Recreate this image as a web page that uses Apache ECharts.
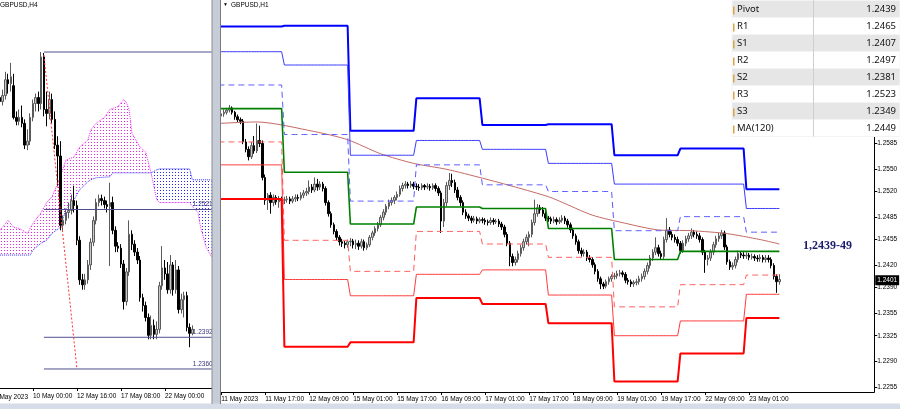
<!DOCTYPE html>
<html>
<head>
<meta charset="utf-8">
<script src="https://cdn.jsdelivr.net/npm/echarts@6/dist/echarts.min.js"></script>
<style>
  html, body { margin: 0; padding: 0; background: #fff; }
  #chart { width: 900px; height: 409px; }
</style>
</head>
<body>
<div id="chart"></div>
<script>
// ---- left panel: GBPUSD H4 ----
const leftDays = ['8 May', '9 May', '10 May', '11 May', '12 May', '15 May', '16 May', '17 May', '18 May', '19 May', '22 May', '23 May']
const leftDayBars = [6, 6, 6, 6, 6, 6, 6, 6, 6, 6, 6, 5]
const leftPadBars = 7
const leftLabelIdx = [12, 28, 44, 60]
const leftLabelText = ['10 May 00:00', '12 May 16:00', '17 May 08:00', '22 May 00:00']

// [open, close, low, high]
const leftCandles = [
  [1.2634, 1.2630, 1.2625, 1.2640], [1.2630, 1.2636, 1.2626, 1.2642], [1.2636, 1.2652, 1.2632, 1.2660],
  [1.2652, 1.2648, 1.2638, 1.2658], [1.2648, 1.2655, 1.2640, 1.2669], [1.2646, 1.2614, 1.2612, 1.2658],
  [1.2614, 1.2610, 1.2606, 1.2620], [1.2610, 1.2614, 1.2606, 1.2622], [1.2614, 1.2608, 1.2604, 1.2626],
  [1.2608, 1.2586, 1.2582, 1.2612], [1.2586, 1.2590, 1.2581, 1.2602], [1.2590, 1.2614, 1.2586, 1.2618],
  [1.2614, 1.2628, 1.2610, 1.2632], [1.2628, 1.2634, 1.2620, 1.2638], [1.2634, 1.2628, 1.2620, 1.2640],
  [1.2628, 1.2675, 1.2622, 1.2680], [1.2675, 1.2622, 1.2615, 1.2679], [1.2622, 1.2618, 1.2605, 1.2640],
  [1.2618, 1.2632, 1.2612, 1.2640], [1.2632, 1.2612, 1.2608, 1.2638], [1.2612, 1.2586, 1.2582, 1.2620],
  [1.2586, 1.2575, 1.2545, 1.2595], [1.2575, 1.2505, 1.2500, 1.2590], [1.2505, 1.2510, 1.2500, 1.2515],
  [1.2510, 1.2518, 1.2506, 1.2522], [1.2518, 1.2520, 1.2512, 1.2528], [1.2520, 1.2530, 1.2516, 1.2536],
  [1.2530, 1.2525, 1.2518, 1.2545], [1.2525, 1.2490, 1.2485, 1.2530], [1.2490, 1.2450, 1.2445, 1.2494],
  [1.2450, 1.2445, 1.2440, 1.2456], [1.2445, 1.2450, 1.2440, 1.2456], [1.2450, 1.2465, 1.2446, 1.2470],
  [1.2465, 1.2488, 1.2460, 1.2492], [1.2488, 1.2510, 1.2484, 1.2514], [1.2510, 1.2528, 1.2506, 1.2532],
  [1.2528, 1.2532, 1.2524, 1.2536], [1.2532, 1.2530, 1.2525, 1.2536], [1.2530, 1.2526, 1.2522, 1.2534],
  [1.2526, 1.2524, 1.2518, 1.2530], [1.2524, 1.2528, 1.2464, 1.2548], [1.2528, 1.2500, 1.2496, 1.2534],
  [1.2500, 1.2484, 1.2478, 1.2504], [1.2484, 1.2482, 1.2478, 1.2488], [1.2482, 1.2466, 1.2462, 1.2486],
  [1.2466, 1.2428, 1.2420, 1.2470], [1.2428, 1.2458, 1.2424, 1.2462], [1.2458, 1.2496, 1.2454, 1.2510],
  [1.2496, 1.2486, 1.2480, 1.2500], [1.2486, 1.2478, 1.2474, 1.2490], [1.2478, 1.2470, 1.2466, 1.2482],
  [1.2470, 1.2432, 1.2428, 1.2474], [1.2432, 1.2424, 1.2418, 1.2436], [1.2424, 1.2412, 1.2408, 1.2428],
  [1.2412, 1.2394, 1.2390, 1.2416], [1.2394, 1.2404, 1.2390, 1.2414], [1.2404, 1.2395, 1.2390, 1.2410],
  [1.2395, 1.2400, 1.2390, 1.2408], [1.2400, 1.2444, 1.2396, 1.2448], [1.2444, 1.2462, 1.2440, 1.2484],
  [1.2462, 1.2456, 1.2450, 1.2470], [1.2456, 1.2440, 1.2436, 1.2468], [1.2440, 1.2465, 1.2436, 1.2475],
  [1.2465, 1.2440, 1.2434, 1.2468], [1.2440, 1.2460, 1.2436, 1.2470], [1.2460, 1.2420, 1.2416, 1.2464],
  [1.2420, 1.2430, 1.2416, 1.2436], [1.2430, 1.2434, 1.2412, 1.2438], [1.2434, 1.2402, 1.2398, 1.2438],
  [1.2402, 1.2396, 1.2382, 1.2406], [1.2396, 1.2400, 1.2394, 1.2404]
]

// ichimoku spans [bar index, price]
const spanA = [
  [0, 1.2500], [3, 1.2510], [5, 1.2503], [7, 1.2502], [10, 1.2497], [12, 1.2507], [15, 1.2518],
  [17, 1.2528], [19, 1.2534], [22, 1.2554], [24, 1.2571], [27, 1.2574], [29, 1.2584], [32, 1.2591],
  [33, 1.2601], [35, 1.2608], [38, 1.2614], [40, 1.2622], [43, 1.2625], [45, 1.2632], [46, 1.2629],
  [47, 1.2622], [48, 1.2598], [51, 1.2584], [53, 1.2579], [55, 1.2558], [57, 1.2531], [58, 1.2528],
  [69, 1.2528], [70, 1.2524], [72, 1.2518], [73, 1.2503], [75, 1.2483], [77, 1.2473]
]
const spanB = [
  [0, 1.2475], [11, 1.2475], [12, 1.2480], [15, 1.2487], [17, 1.2490], [19, 1.2497], [22, 1.2503],
  [24, 1.2521], [27, 1.2531], [29, 1.2541], [32, 1.2549], [33, 1.2551], [35, 1.2553], [40, 1.2554],
  [41, 1.2558], [55, 1.2558], [57, 1.2561], [58, 1.2562], [69, 1.2562], [70, 1.2551], [77, 1.2551]
]
const cloudCross = 55

const leftLevels = [1.2680, 1.2521, 1.2392, 1.2360]
const leftLevelLabels = ['', '1.2521', '1.2392', '1.2360']
const trendLine = [[16, 1.2677], [28, 1.2361]]

// ---- right panel: GBPUSD H1 ----
const rightDays = ['11 May', '12 May', '15 May', '16 May', '17 May', '18 May', '19 May', '22 May', '23 May']
const rightDayBars = [24, 24, 24, 24, 24, 24, 24, 24, 13]
const rightPadBars = 34
const rightLabelIdx = [1, 17, 33, 49, 65, 81, 97, 113, 129, 145, 161, 177, 193]
const rightLabelText = ['11 May 2023', '11 May 17:00', '12 May 09:00', '15 May 01:00', '15 May 17:00', '16 May 09:00',
  '17 May 01:00', '17 May 17:00', '18 May 09:00', '19 May 01:00', '19 May 17:00', '22 May 09:00', '23 May 01:00']
const rightYTicks = [1.2255, 1.2290, 1.2325, 1.2355, 1.2390, 1.2420, 1.2455, 1.2485, 1.2520, 1.2550, 1.2585]

const rightCandles = [
  // 11 May
  [1.2619, 1.2622, 1.2615, 1.2626], [1.2622, 1.2625, 1.2619, 1.2628], [1.2625, 1.2627, 1.2621, 1.2631],
  [1.2627, 1.2630, 1.2624, 1.2633], [1.2630, 1.2633, 1.2627, 1.2637], [1.2633, 1.2627, 1.2624, 1.2635],
  [1.2627, 1.2621, 1.2617, 1.2629], [1.2621, 1.2617, 1.2614, 1.2624], [1.2617, 1.2615, 1.2611, 1.2620],
  [1.2615, 1.2587, 1.2584, 1.2618], [1.2587, 1.2577, 1.2573, 1.2591], [1.2577, 1.2567, 1.2562, 1.2581],
  [1.2567, 1.2582, 1.2564, 1.2587], [1.2582, 1.2575, 1.2571, 1.2595], [1.2575, 1.2589, 1.2572, 1.2612],
  [1.2589, 1.2585, 1.2580, 1.2609], [1.2585, 1.2539, 1.2535, 1.2589], [1.2539, 1.2508, 1.2502, 1.2543],
  [1.2508, 1.2515, 1.2495, 1.2518], [1.2515, 1.2505, 1.2490, 1.2519], [1.2505, 1.2512, 1.2500, 1.2516],
  [1.2512, 1.2506, 1.2502, 1.2515], [1.2506, 1.2510, 1.2498, 1.2514], [1.2510, 1.2508, 1.2503, 1.2513],
  // 12 May
  [1.2508, 1.2509, 1.2503, 1.2513], [1.2509, 1.2510, 1.2505, 1.2514], [1.2510, 1.2507, 1.2503, 1.2513],
  [1.2507, 1.2510, 1.2504, 1.2514], [1.2510, 1.2512, 1.2506, 1.2516], [1.2512, 1.2511, 1.2507, 1.2516],
  [1.2511, 1.2515, 1.2508, 1.2519], [1.2515, 1.2518, 1.2511, 1.2522], [1.2518, 1.2520, 1.2514, 1.2525],
  [1.2520, 1.2526, 1.2516, 1.2535], [1.2526, 1.2522, 1.2518, 1.2530], [1.2522, 1.2530, 1.2519, 1.2539],
  [1.2530, 1.2526, 1.2521, 1.2537], [1.2526, 1.2530, 1.2522, 1.2534], [1.2530, 1.2524, 1.2520, 1.2533],
  [1.2524, 1.2505, 1.2501, 1.2527], [1.2505, 1.2490, 1.2486, 1.2508], [1.2490, 1.2475, 1.2471, 1.2493],
  [1.2475, 1.2466, 1.2462, 1.2478], [1.2466, 1.2458, 1.2454, 1.2469], [1.2458, 1.2452, 1.2447, 1.2461],
  [1.2452, 1.2450, 1.2445, 1.2456], [1.2450, 1.2448, 1.2443, 1.2453], [1.2448, 1.2452, 1.2444, 1.2455],
  // 15 May
  [1.2452, 1.2453, 1.2446, 1.2457], [1.2453, 1.2448, 1.2443, 1.2456], [1.2448, 1.2450, 1.2442, 1.2455],
  [1.2450, 1.2446, 1.2441, 1.2454], [1.2446, 1.2452, 1.2443, 1.2456], [1.2452, 1.2444, 1.2440, 1.2455],
  [1.2444, 1.2448, 1.2441, 1.2451], [1.2448, 1.2458, 1.2445, 1.2461], [1.2458, 1.2464, 1.2454, 1.2467],
  [1.2464, 1.2470, 1.2460, 1.2473], [1.2470, 1.2475, 1.2466, 1.2479], [1.2475, 1.2485, 1.2472, 1.2488],
  [1.2485, 1.2492, 1.2481, 1.2496], [1.2492, 1.2500, 1.2488, 1.2503], [1.2500, 1.2505, 1.2496, 1.2509],
  [1.2505, 1.2508, 1.2501, 1.2512], [1.2508, 1.2512, 1.2503, 1.2515], [1.2512, 1.2516, 1.2508, 1.2520],
  [1.2516, 1.2524, 1.2513, 1.2528], [1.2524, 1.2528, 1.2520, 1.2532], [1.2528, 1.2530, 1.2524, 1.2534],
  [1.2530, 1.2528, 1.2524, 1.2533], [1.2528, 1.2530, 1.2525, 1.2534], [1.2530, 1.2527, 1.2523, 1.2533],
  // 16 May
  [1.2527, 1.2526, 1.2522, 1.2531], [1.2526, 1.2525, 1.2521, 1.2530], [1.2525, 1.2528, 1.2522, 1.2531],
  [1.2528, 1.2526, 1.2522, 1.2530], [1.2526, 1.2527, 1.2523, 1.2531], [1.2527, 1.2525, 1.2521, 1.2530],
  [1.2525, 1.2528, 1.2522, 1.2531], [1.2528, 1.2524, 1.2520, 1.2531], [1.2524, 1.2518, 1.2514, 1.2527],
  [1.2518, 1.2480, 1.2464, 1.2521], [1.2480, 1.2505, 1.2472, 1.2510], [1.2505, 1.2528, 1.2500, 1.2533],
  [1.2528, 1.2535, 1.2522, 1.2545], [1.2535, 1.2532, 1.2526, 1.2544], [1.2532, 1.2522, 1.2518, 1.2536],
  [1.2522, 1.2512, 1.2508, 1.2526], [1.2512, 1.2505, 1.2500, 1.2515], [1.2505, 1.2492, 1.2488, 1.2508],
  [1.2492, 1.2487, 1.2483, 1.2496], [1.2487, 1.2484, 1.2480, 1.2490], [1.2484, 1.2481, 1.2477, 1.2487],
  [1.2481, 1.2483, 1.2478, 1.2487], [1.2483, 1.2480, 1.2476, 1.2486], [1.2480, 1.2482, 1.2477, 1.2485],
  // 17 May
  [1.2482, 1.2481, 1.2477, 1.2485], [1.2481, 1.2479, 1.2475, 1.2484], [1.2479, 1.2478, 1.2474, 1.2482],
  [1.2478, 1.2481, 1.2475, 1.2485], [1.2481, 1.2479, 1.2475, 1.2484], [1.2479, 1.2480, 1.2476, 1.2483],
  [1.2480, 1.2476, 1.2472, 1.2483], [1.2476, 1.2472, 1.2468, 1.2479], [1.2472, 1.2462, 1.2458, 1.2475],
  [1.2462, 1.2450, 1.2446, 1.2465], [1.2450, 1.2432, 1.2419, 1.2453], [1.2432, 1.2424, 1.2419, 1.2436],
  [1.2424, 1.2428, 1.2420, 1.2432], [1.2428, 1.2436, 1.2424, 1.2440], [1.2436, 1.2444, 1.2432, 1.2448],
  [1.2444, 1.2452, 1.2440, 1.2456], [1.2452, 1.2458, 1.2448, 1.2462], [1.2458, 1.2462, 1.2446, 1.2466],
  [1.2462, 1.2478, 1.2458, 1.2482], [1.2478, 1.2490, 1.2474, 1.2509], [1.2490, 1.2498, 1.2486, 1.2503],
  [1.2498, 1.2495, 1.2490, 1.2502], [1.2495, 1.2490, 1.2486, 1.2499], [1.2490, 1.2484, 1.2480, 1.2494],
  // 18 May
  [1.2484, 1.2483, 1.2479, 1.2487], [1.2483, 1.2480, 1.2476, 1.2486], [1.2480, 1.2482, 1.2477, 1.2486],
  [1.2482, 1.2479, 1.2475, 1.2485], [1.2479, 1.2481, 1.2476, 1.2485], [1.2481, 1.2484, 1.2478, 1.2488],
  [1.2484, 1.2480, 1.2476, 1.2487], [1.2480, 1.2475, 1.2471, 1.2483], [1.2475, 1.2468, 1.2464, 1.2478],
  [1.2468, 1.2460, 1.2456, 1.2471], [1.2460, 1.2452, 1.2448, 1.2463], [1.2452, 1.2440, 1.2436, 1.2455],
  [1.2440, 1.2436, 1.2432, 1.2444], [1.2436, 1.2438, 1.2432, 1.2442], [1.2438, 1.2430, 1.2426, 1.2441],
  [1.2430, 1.2428, 1.2424, 1.2434], [1.2428, 1.2421, 1.2417, 1.2431], [1.2421, 1.2412, 1.2408, 1.2424],
  [1.2412, 1.2402, 1.2398, 1.2415], [1.2402, 1.2395, 1.2388, 1.2405], [1.2395, 1.2392, 1.2388, 1.2398],
  [1.2392, 1.2398, 1.2389, 1.2401], [1.2398, 1.2402, 1.2394, 1.2405], [1.2402, 1.2405, 1.2398, 1.2408],
  // 19 May
  [1.2405, 1.2406, 1.2401, 1.2410], [1.2406, 1.2409, 1.2402, 1.2413], [1.2409, 1.2410, 1.2405, 1.2414],
  [1.2410, 1.2408, 1.2404, 1.2413], [1.2408, 1.2400, 1.2396, 1.2411], [1.2400, 1.2398, 1.2394, 1.2403],
  [1.2398, 1.2395, 1.2391, 1.2401], [1.2395, 1.2397, 1.2391, 1.2400], [1.2397, 1.2398, 1.2393, 1.2402],
  [1.2398, 1.2402, 1.2394, 1.2406], [1.2402, 1.2405, 1.2398, 1.2409], [1.2405, 1.2412, 1.2401, 1.2416],
  [1.2412, 1.2420, 1.2408, 1.2424], [1.2420, 1.2430, 1.2416, 1.2434], [1.2430, 1.2438, 1.2426, 1.2442],
  [1.2438, 1.2444, 1.2434, 1.2458], [1.2444, 1.2436, 1.2432, 1.2448], [1.2436, 1.2432, 1.2428, 1.2440],
  [1.2432, 1.2455, 1.2428, 1.2459], [1.2455, 1.2468, 1.2451, 1.2484], [1.2468, 1.2462, 1.2458, 1.2472],
  [1.2462, 1.2458, 1.2454, 1.2466], [1.2458, 1.2455, 1.2451, 1.2462], [1.2455, 1.2450, 1.2446, 1.2459],
  // 22 May
  [1.2450, 1.2440, 1.2436, 1.2453], [1.2440, 1.2450, 1.2437, 1.2454], [1.2450, 1.2456, 1.2446, 1.2460],
  [1.2456, 1.2460, 1.2452, 1.2464], [1.2460, 1.2465, 1.2456, 1.2470], [1.2465, 1.2462, 1.2458, 1.2468],
  [1.2462, 1.2460, 1.2456, 1.2466], [1.2460, 1.2455, 1.2451, 1.2464], [1.2455, 1.2438, 1.2434, 1.2458],
  [1.2438, 1.2428, 1.2410, 1.2441], [1.2428, 1.2430, 1.2420, 1.2434], [1.2430, 1.2438, 1.2426, 1.2442],
  [1.2438, 1.2448, 1.2434, 1.2452], [1.2448, 1.2456, 1.2444, 1.2460], [1.2456, 1.2460, 1.2452, 1.2464],
  [1.2460, 1.2464, 1.2456, 1.2468], [1.2464, 1.2445, 1.2441, 1.2467], [1.2445, 1.2425, 1.2421, 1.2448],
  [1.2425, 1.2418, 1.2414, 1.2428], [1.2418, 1.2420, 1.2414, 1.2424], [1.2420, 1.2428, 1.2416, 1.2432],
  [1.2428, 1.2436, 1.2424, 1.2440], [1.2436, 1.2434, 1.2430, 1.2439], [1.2434, 1.2433, 1.2429, 1.2438],
  // 23 May
  [1.2433, 1.2434, 1.2429, 1.2438], [1.2434, 1.2431, 1.2427, 1.2437], [1.2431, 1.2432, 1.2428, 1.2436],
  [1.2432, 1.2430, 1.2426, 1.2435], [1.2430, 1.2429, 1.2425, 1.2434], [1.2429, 1.2431, 1.2425, 1.2435],
  [1.2431, 1.2428, 1.2424, 1.2434], [1.2428, 1.2430, 1.2424, 1.2434], [1.2430, 1.2428, 1.2424, 1.2434],
  [1.2428, 1.2420, 1.2416, 1.2431], [1.2420, 1.2405, 1.2401, 1.2423], [1.2405, 1.2398, 1.2383, 1.2408],
  [1.2398, 1.2401, 1.2394, 1.2408]
]
const lastPrice = 1.2401

// daily pivot levels, one value per day in rightDays
const levelR3 = [1.2743, 1.2744, 1.2602, 1.2646, 1.2610, 1.2611, 1.2569, 1.2578, 1.2523]
const levelR2 = [1.2709, 1.2691, 1.2569, 1.2589, 1.2577, 1.2558, 1.2530, 1.2530, 1.2497]
const levelR1 = [1.2664, 1.2597, 1.2507, 1.2556, 1.2529, 1.2520, 1.2467, 1.2486, 1.2465]
const levelP = [1.2632, 1.2546, 1.2476, 1.2499, 1.2497, 1.2470, 1.2428, 1.2439, 1.2439]
const levelS1 = [1.2587, 1.2454, 1.2412, 1.2466, 1.2449, 1.2431, 1.2364, 1.2394, 1.2407]
const levelS2 = [1.2556, 1.2401, 1.2379, 1.2408, 1.2414, 1.2380, 1.2325, 1.2345, 1.2381]
const levelS3 = [1.2510, 1.2310, 1.2316, 1.2376, 1.2368, 1.2342, 1.2263, 1.2301, 1.2349]

// MA(120) read at some bars [bar index, price]
const maPoints = [
  [0, 1.2612], [14, 1.2614], [35, 1.2601], [47, 1.2590], [59, 1.2571], [71, 1.2558], [83, 1.2550],
  [96, 1.2538], [108, 1.2526], [120, 1.2513], [124, 1.2507], [136, 1.2488], [148, 1.2477],
  [160, 1.2468], [172, 1.2467], [185, 1.2463], [197, 1.2455], [204, 1.2449]
]

const tableNames = ['Pivot', 'R1', 'S1', 'R2', 'S2', 'R3', 'S3', 'MA(120)']
const tableValues = [1.2439, 1.2465, 1.2407, 1.2497, 1.2381, 1.2523, 1.2349, 1.2449]
const noteText = '1,2439-49'

const FONT = '"Liberation Sans", Arial, sans-serif'

const pad2 = n => String(n).padStart(2, '0')
const leftCats = leftDays.flatMap((d, k) =>
  Array.from({ length: leftDayBars[k] }, (_, h) => d + ' ' + pad2(h * 4) + ':00'))
  .concat(Array.from({ length: leftPadBars }, (_, i) => 'L+' + i))
const rightCats = rightDays.flatMap((d, k) =>
  Array.from({ length: rightDayBars[k] }, (_, h) => d + ' ' + pad2(h) + ':00'))
  .concat(Array.from({ length: rightPadBars }, (_, i) => 'R+' + i))

const perBar = vals => rightDays.flatMap((d, k) => Array(rightDayBars[k]).fill(vals[k]))

// sparse dot hatch like the terminal's cloud fill
const makeDots = color => {
  const c = document.createElement('canvas')
  c.width = 3
  c.height = 3
  const g = c.getContext('2d')
  g.fillStyle = color
  g.fillRect(1, 1, 1, 1)
  return c
}
const pinkDots = { image: makeDots('#f020f0'), repeat: 'repeat' }
const blueDots = { image: makeDots('#2828ff'), repeat: 'repeat' }

const candleStyle = {
  color: '#c8c8c8',
  color0: '#000000',
  borderColor: '#5a5a5a',
  borderColor0: '#000000',
  borderWidth: 1
}

const levelLine = (name, vals, color, width, dashed) => ({
  name,
  type: 'line',
  xAxisIndex: 1,
  yAxisIndex: 1,
  data: perBar(vals),
  showSymbol: false,
  silent: true,
  z: 4,
  lineStyle: { color, width, type: dashed ? [6, 4] : 'solid' }
})

const xAxisCommon = (labelIdx, labelText, margin) => ({
  type: 'category',
  boundaryGap: true,
  axisLine: { show: true, lineStyle: { color: '#000', width: 1 } },
  axisTick: {
    show: true, alignWithLabel: true, length: 3,
    interval: i => labelIdx.includes(i),
    lineStyle: { color: '#000' }
  },
  axisLabel: {
    interval: i => labelIdx.includes(i),
    formatter: (v, i) => labelText[labelIdx.indexOf(i)] || '',
    align: 'left', margin, fontSize: 6.5, color: '#000', fontFamily: FONT
  },
  splitLine: { show: false }
})

const chart = echarts.init(document.getElementById('chart'), null, { renderer: 'canvas' })

const tableGraphics = []
tableNames.forEach((n, k) => {
  const top = 0.5 + 17 * k
  tableGraphics.push(
    { type: 'rect', z: 110, shape: { x: 732, y: top, width: 168, height: 17 },
      style: { fill: k % 2 === 0 ? '#e6e6e6' : '#ffffff', stroke: '#f4f4f4', lineWidth: 1 } },
    { type: 'rect', z: 111, shape: { x: 733, y: top + 6, width: 1.5, height: 8 }, style: { fill: '#d9a441' } },
    { type: 'text', z: 112, x: 737, y: top + 9,
      style: { text: n, fill: '#111', font: '9.5px "Noto Sans", sans-serif', textVerticalAlign: 'middle' } },
    { type: 'text', z: 112, x: 896, y: top + 9,
      style: { text: tableValues[k].toFixed(4), fill: '#111', font: '9.5px "Noto Sans", sans-serif',
        textAlign: 'right', textVerticalAlign: 'middle' } }
  )
})
tableGraphics.push({ type: 'line', z: 113, shape: { x1: 813.5, y1: 0, x2: 813.5, y2: 136.5 },
  style: { stroke: '#cfcfcf', lineWidth: 1 } })

chart.setOption({
  animation: false,
  backgroundColor: '#ffffff',
  grid: [
    { left: -1.5, top: 0, width: 214.5, height: 388, outerBoundsMode: 'none' },
    { left: 217, top: 0, width: 657.25, height: 392, outerBoundsMode: 'none' }
  ],
  xAxis: [
    Object.assign(xAxisCommon(leftLabelIdx, leftLabelText, 5), { gridIndex: 0, data: leftCats }),
    Object.assign(xAxisCommon(rightLabelIdx, rightLabelText, 4), { gridIndex: 1, data: rightCats })
  ],
  yAxis: [
    { type: 'value', gridIndex: 0, min: 1.23408, max: 1.27325, show: false, splitLine: { show: false } },
    {
      type: 'value', gridIndex: 1, position: 'right', min: 1.22489, max: 1.27789,
      axisLine: { show: true, lineStyle: { color: '#000' } },
      axisTick: { show: true, length: 3, customValues: rightYTicks, lineStyle: { color: '#000' } },
      axisLabel: { customValues: rightYTicks, formatter: v => v.toFixed(4), fontSize: 6.5, margin: 3,
        color: '#000', fontFamily: FONT },
      splitLine: { show: false }
    }
  ],
  series: [
    // left: cloud
    {
      type: 'custom', xAxisIndex: 0, yAxisIndex: 0, silent: true, z: 1,
      data: [0],
      renderItem: (params, api) => {
        const pts = arr => arr.map(p => api.coord(p))
        const pinkPoly = spanA.filter(p => p[0] <= cloudCross)
          .concat(spanB.filter(p => p[0] <= cloudCross).reverse())
        const bluePoly = spanA.filter(p => p[0] >= cloudCross)
          .concat(spanB.filter(p => p[0] >= cloudCross).reverse())
        return {
          type: 'group',
          children: [
            { type: 'polygon', shape: { points: pts(pinkPoly) }, style: { fill: pinkDots } },
            { type: 'polygon', shape: { points: pts(bluePoly) }, style: { fill: blueDots } }
          ]
        }
      }
    },
    { type: 'line', xAxisIndex: 0, yAxisIndex: 0, data: spanA, showSymbol: false, silent: true, z: 2,
      lineStyle: { color: '#f030f0', width: 1, type: 'dotted' } },
    { type: 'line', xAxisIndex: 0, yAxisIndex: 0, data: spanB, showSymbol: false, silent: true, z: 2,
      lineStyle: { color: '#3030ff', width: 1, type: 'dotted' } },
    {
      type: 'candlestick', xAxisIndex: 0, yAxisIndex: 0, data: leftCandles, barWidth: 1.8, z: 3,
      silent: true, itemStyle: candleStyle
    },
    ...leftLevels.map((v, k) => ({
      type: 'line', xAxisIndex: 0, yAxisIndex: 0, showSymbol: false, silent: true, z: 4,
      data: [[16, v], [77, v]],
      lineStyle: { color: '#50508f', width: 1 },
      markPoint: leftLevelLabels[k] ? {
        symbol: 'circle', symbolSize: 0, silent: true,
        data: [{ coord: [leftCats[77], v], value: leftLevelLabels[k] }],
        label: { show: true, position: 'left', distance: 0, offset: [1, -5], formatter: '{c}',
          color: '#35357a', fontSize: 6.5, fontFamily: FONT }
      } : undefined
    })),
    { type: 'line', xAxisIndex: 0, yAxisIndex: 0, data: trendLine, showSymbol: false, silent: true, z: 5,
      lineStyle: { color: '#ff3030', width: 1, type: [2, 2] } },

    // right
    {
      type: 'candlestick', xAxisIndex: 1, yAxisIndex: 1, data: rightCandles, barWidth: 1.8, z: 3,
      silent: true, itemStyle: candleStyle,
      markLine: {
        silent: true, symbol: ['none', 'none'],
        data: [{ yAxis: lastPrice }],
        lineStyle: { color: 'rgba(0,0,0,0)', width: 0 },
        label: { show: true, position: 'end', distance: 1, formatter: lastPrice.toFixed(4),
          backgroundColor: '#000', color: '#fff', fontSize: 6.5, fontFamily: FONT, padding: [2, 2, 1, 2] }
      }
    },
    { type: 'line', xAxisIndex: 1, yAxisIndex: 1, data: maPoints, showSymbol: false, silent: true, z: 4,
      smooth: 0.25, lineStyle: { color: '#c46a64', width: 1 } },
    levelLine('R3', levelR3, '#0000ff', 2, false),
    levelLine('R2', levelR2, '#3c3cff', 1, false),
    levelLine('R1', levelR1, '#5a5aff', 1, true),
    levelLine('Pivot', levelP, '#008000', 1.6, false),
    levelLine('S1', levelS1, '#ff5c5c', 1, true),
    levelLine('S2', levelS2, '#ff3c3c', 1, false),
    levelLine('S3', levelS3, '#ff0000', 2, false)
  ],
  graphic: [
    { type: 'rect', z: 100, shape: { x: 212, y: 0, width: 8.5, height: 404 }, style: { fill: '#c6cdd9' } },
    { type: 'line', z: 101, shape: { x1: 212, y1: 0, x2: 212, y2: 404 }, style: { stroke: '#8c8c8c', lineWidth: 1 } },
    { type: 'line', z: 101, shape: { x1: 220.5, y1: 0, x2: 220.5, y2: 404 }, style: { stroke: '#7a7a7a', lineWidth: 1 } },
    { type: 'rect', z: 100, shape: { x: 0, y: 403.5, width: 900, height: 6 }, style: { fill: '#d6dde8' } },
    { type: 'text', z: 102, x: 0, y: 5,
      style: { text: 'GBPUSD,H4', fill: '#000', font: '6.5px ' + FONT, textVerticalAlign: 'middle' } },
    { type: 'text', z: 102, x: 223, y: 5,
      style: { text: '\u25BC', fill: '#000', font: '5px ' + FONT, textVerticalAlign: 'middle' } },
    { type: 'text', z: 102, x: 231, y: 5,
      style: { text: 'GBPUSD,H1', fill: '#000', font: '6.5px ' + FONT, textVerticalAlign: 'middle' } },
    { type: 'text', z: 102, x: 28, y: 397,
      style: { text: '9 May 2023', fill: '#000', font: '6.5px ' + FONT, textAlign: 'right', textVerticalAlign: 'middle' } },
    { type: 'text', z: 102, x: 803, y: 246,
      style: { text: noteText, fill: '#1c1c6c', font: 'bold 12px "Liberation Serif", serif', textVerticalAlign: 'middle' } },
    ...tableGraphics
  ]
})
</script>
</body>
</html>
